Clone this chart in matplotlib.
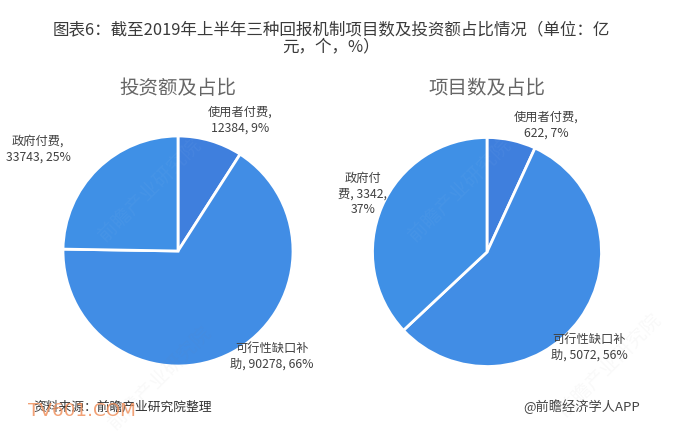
import matplotlib
matplotlib.use("Agg")
import matplotlib.pyplot as plt

plt.rcParams['font.family'] = ['Noto Sans CJK SC', 'DejaVu Sans']

W, H = 674, 437

title_lines = "图表6：截至2019年上半年三种回报机制项目数及投资额占比情况（单位：亿\n元，个，%）"
left_title = "投资额及占比"
right_title = "项目数及占比"
source_text = "资料来源：前瞻产业研究院整理"
brand_text = "@前瞻经济学人APP"
stamp_text = "TV601.COM"
watermark_text = "前瞻产业研究院"

# clockwise from 12 o'clock
invest_values = [12384, 90278, 33743]
project_values = [622, 5072, 3342]
slice_colors = ["#3F7FDD", "#418DE5", "#3F90E6"]

invest_labels = ["使用者付费,\n12384, 9%", "可行性缺口补\n助, 90278, 66%", "政府付费,\n33743, 25%"]
project_labels = ["使用者付费,\n622, 7%", "可行性缺口补\n助, 5072, 56%", "政府付\n费, 3342,\n37%"]

fig = plt.figure(figsize=(W / 100, H / 100), dpi=100, facecolor="white")


def px_axes(cx, cy, r):
    return fig.add_axes([(cx - r) / W, 1 - (cy + r) / H, 2 * r / W, 2 * r / H])


def draw_pie(cx, cy, r, values):
    ax = px_axes(cx, cy, r)
    ax.pie(values, colors=slice_colors, startangle=90, counterclock=False, radius=1,
           wedgeprops=dict(edgecolor="white", linewidth=2.0))
    ax.set_xlim(-1, 1)
    ax.set_ylim(-1, 1)
    ax.set_aspect("equal")
    ax.axis("off")
    for p in ax.patches:
        p.set_clip_on(False)


draw_pie(178, 251, 115, invest_values)
draw_pie(487, 252, 114.5, project_values)


def put(x, y, s, **kw):
    kw.setdefault("ha", "center")
    kw.setdefault("va", "center")
    kw.setdefault("color", "#404040")
    return fig.text(x / W, 1 - y / H, s, **kw)


# faint diagonal watermarks
for wx, wy, wc, wa in [(150, 190, "white", 0.04), (460, 190, "white", 0.04),
                       (160, 378, "#888888", 0.05), (610, 365, "#888888", 0.05)]:
    put(wx, wy, watermark_text, fontsize=14, rotation=45, color=wc, alpha=wa)

put(331, 38, title_lines, fontsize=11.9, color="#3a3a3a", linespacing=0.98)
put(178, 88, left_title, fontsize=14, color="#666666")
put(487, 88, right_title, fontsize=14, color="#666666")

lab = dict(fontsize=8.8, linespacing=1.28)
put(240, 120, invest_labels[0], **lab)
put(272, 356, invest_labels[1], **lab)
put(38, 149, invest_labels[2], **lab)

put(546, 125, project_labels[0], **lab)
put(589, 347, project_labels[1], **lab)
put(363, 194, project_labels[2], **lab)

put(33, 407, source_text, fontsize=9.2, ha="left", style="italic", color="#333333")
put(640, 407, brand_text, fontsize=9.5, ha="right", color="#444444")
put(28, 411, stamp_text, fontsize=13.2, ha="left", color="#F0925F", alpha=0.85,
    family="DejaVu Sans")

fig.savefig("out.png", dpi=100)
